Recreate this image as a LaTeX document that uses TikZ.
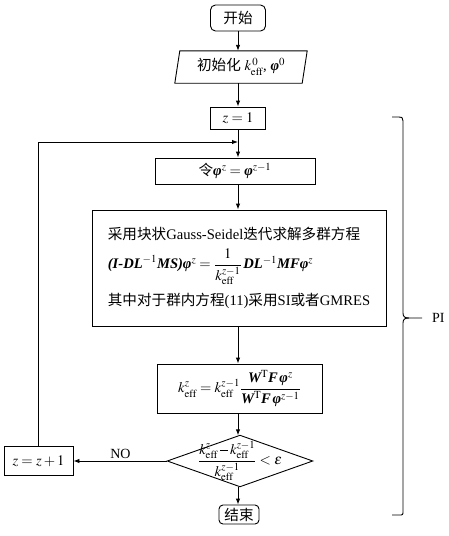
\documentclass[tikz,border=0pt]{standalone}
\usepackage{amsmath}
\usepackage{mathptmx}
\usepackage[no-math]{fontspec}
\setmainfont{Liberation Serif}
\newfontfamily\cjk{Noto Sans CJK SC}
\usetikzlibrary{arrows.meta,calc}
\newcommand{\bv}[1]{\mbox{\normalfont\bfseries\itshape #1}}
\newcommand{\bph}{\mbox{\normalfont\bfseries\itshape φ}}
\newcommand{\eff}{\mathrm{eff}}
\newcommand{\mminus}{\mathbin{\rule[0.25em]{0.55em}{0.05em}}}
\begin{document}
\begin{tikzpicture}[x=1pt,y=-1pt,
  font=\fontsize{14.6}{17.5}\selectfont,
  box/.style={draw,line width=0.9pt,inner sep=0pt,align=center},
  bare/.style={inner sep=0pt,align=center},
  arr/.style={-{Latex[length=6pt,width=4.5pt]},line width=0.9pt},
  ln/.style={line width=0.9pt}]
\useasboundingbox (0,0) rectangle (448,536);
% nodes
\node[box,rounded corners=5pt,minimum width=55,minimum height=26] (start) at (238,18) {\cjk 开始};
\node[bare,minimum width=127,minimum height=32] (init) at (241,67) {{\cjk 初始化} $k_\eff^{\,0}$, $\bph^0$};
\draw[ln] ($(init.north west)+(2.5,0)$) -- ($(init.north east)+(2.5,0)$) -- ($(init.south east)-(2.5,0)$) -- ($(init.south west)-(2.5,0)$) -- cycle;
\node[box,minimum width=55,minimum height=22] (z1) at (238,118) {$z=1$};
\node[box,minimum width=160,minimum height=26] (phi) at (235,171) {{\cjk 令}$\bph^z=\bph^{z-1}$};
\node[box,minimum width=294,minimum height=116,align=left] (big) at (239,268) {{\cjk 采用块状}Gauss-Seidel{\cjk 迭代求解多群方程}\\[7pt]
$\bv{(I-DL}^{-1}\bv{MS)}\bph^z=\dfrac{1}{k_\eff^{z-1}}\,\bv{DL}^{-1}\bv{MF}\bph^z$\\[7pt]
{\cjk 其中对于群内方程}(11){\cjk 采用}SI{\cjk 或者}GMRES};
\node[box,minimum width=165,minimum height=49] (keff) at (239.5,388.5) {$k_\eff^{z}=k_\eff^{z-1}\dfrac{\bv{W}^{\mathrm{T}}\bv{F}\,\bph^z}{\bv{W}^{\mathrm{T}}\bv{F}\,\bph^{z-1}}$};
\node[bare,minimum width=145,minimum height=51] (dia) at (240,461) {$\dfrac{k_\eff^{z}\mminus k_\eff^{z-1}}{k_\eff^{z-1}}<\varepsilon$};
\draw[ln] (dia.north) -- (dia.east) -- (dia.south) -- (dia.west) -- cycle;
\node[box,minimum width=69,minimum height=29] (zz) at (38.5,461) {$z=z+1$};
\node[box,rounded corners=4pt,minimum width=40,minimum height=19] (end) at (239,514.5) {\cjk 结束};
\node[bare,anchor=west,font=\fontsize{14}{16}\selectfont] (pi) at (432,318) {PI};
\coordinate (merge) at (238,142);
% connectors
\draw[arr] (start) -- (start |- init.north);
\draw[arr] (start |- init.south) -- (z1);
\draw[arr] (z1) -- (z1 |- phi.north);
\draw[arr] (z1 |- phi.south) -- (z1 |- big.north);
\draw[arr] (z1 |- big.south) -- (z1 |- keff.north);
\draw[arr] (z1 |- keff.south) -- (z1 |- dia.north);
\draw[arr] (z1 |- dia.south) -- (z1 |- end.north);
\draw[arr] (dia.west) -- node[above,font=\fontsize{14}{16}\selectfont,inner sep=2pt] {NO} (zz.east);
\draw[arr] (zz.north) |- (merge);
% brace
\draw[ln] (392,117) -- (399,117) .. controls (402,117) .. (403,121) -- (403,313) .. controls (403,317) and (405,318) .. (409,318) -- (422,318);
\draw[ln] (409,318) .. controls (405,318) and (403,319) .. (403,323) -- (403,511) .. controls (403,515) .. (399,515) -- (392,515);
\end{tikzpicture}
\end{document}
